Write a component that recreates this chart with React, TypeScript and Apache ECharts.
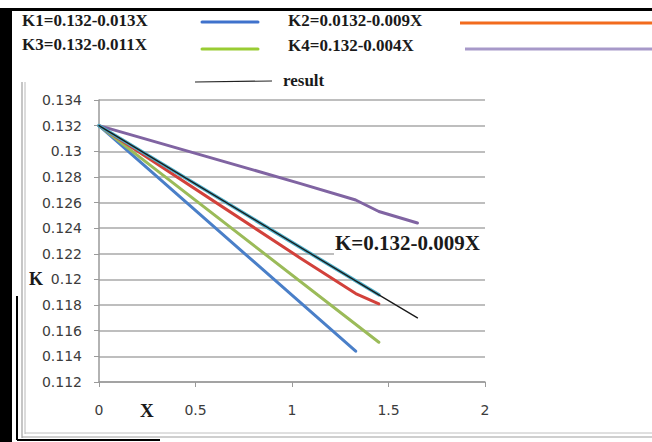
import React, { useEffect, useRef } from "react";
import * as echarts from "echarts";

const xTicks = [0, 0.5, 1, 1.5, 2];
const yMin = 0.112;
const yMax = 0.134;

const k1Points: [number, number][] = [[0, 0.132], [1.33, 0.1144]];
const k3Points: [number, number][] = [[0, 0.132], [1.45, 0.1151]];
const k2Points: [number, number][] = [[0, 0.132], [1.04, 0.1217], [1.33, 0.1189], [1.45, 0.1181]];
const k4Points: [number, number][] = [[0, 0.132], [1.04, 0.1275], [1.33, 0.1262], [1.45, 0.1253], [1.65, 0.1244]];
const kfitPoints: [number, number][] = [[0, 0.132], [1.45, 0.1188]];
const resultPoints: [number, number][] = [[0, 0.132], [1.45, 0.1188], [1.65, 0.1170]];

const legendLabels = ["K1=0.132-0.013X", "K2=0.0132-0.009X", "K3=0.132-0.011X", "K4=0.132-0.004X", "result"];
const annotation = "K=0.132-0.009X";

export default function App() {
  const ref = useRef<HTMLDivElement>(null);
  useEffect(() => {
    if (!ref.current) return;
    const chart = echarts.init(ref.current, null, { renderer: "svg" });
    const serif = "'Liberation Serif', 'Times New Roman', serif";
    const line = (color: string, width: number, data: [number, number][], z = 2) => ({
      type: "line",
      data,
      symbol: "none",
      smooth: false,
      z,
      lineStyle: { color, width, cap: "round", join: "round" },
    });
    chart.setOption({
      animation: false,
      backgroundColor: "#ffffff",
      grid: { left: 99, right: 167, top: 100, bottom: 60 },
      xAxis: {
        type: "value",
        min: xTicks[0],
        max: xTicks[xTicks.length - 1],
        interval: 0.5,
        axisLine: { show: true, lineStyle: { color: "#9a9a9a", width: 1.5 } },
        axisTick: { show: true, inside: false, length: 5, lineStyle: { color: "#9a9a9a" } },
        splitLine: { show: false },
        axisLabel: {
          margin: 21,
          color: "#3c3c3c",
          fontSize: 14,
          fontFamily: "'DejaVu Sans', Verdana, sans-serif",
        },
      },
      yAxis: {
        type: "value",
        min: yMin,
        max: yMax,
        interval: 0.002,
        axisLine: { show: true, lineStyle: { color: "#9a9a9a", width: 1.5 } },
        axisTick: { show: true, length: 5, lineStyle: { color: "#9a9a9a" } },
        splitLine: { show: true, lineStyle: { color: "#a8a8a8", width: 1.5 } },
        axisLabel: {
          margin: 17,
          color: "#3c3c3c",
          fontSize: 14,
          fontFamily: "'DejaVu Sans', Verdana, sans-serif",
          formatter: (v: number) => String(parseFloat(v.toFixed(3))),
        },
      },
      series: [
        line("#4a7fc8", 3, k1Points),
        line("#9bbb59", 3, k3Points),
        line("#d2413b", 3, k2Points),
        line("#8064a2", 3, k4Points),
        line("#4bacc6", 3.5, kfitPoints, 3),
        line("#1a1a1a", 1.3, resultPoints, 4),
      ],
      graphic: [
        // frame
        { type: "rect", shape: { x: 0, y: 8, width: 12, height: 434 }, style: { fill: "#000" }, z: 10 },
        { type: "rect", shape: { x: 8, y: 8, width: 644, height: 3 }, style: { fill: "#000" }, z: 10 },
        { type: "line", shape: { x1: 22, y1: 82, x2: 22, y2: 438 }, style: { stroke: "#a0a0a0", lineWidth: 1.2 }, z: 10 },
        { type: "line", shape: { x1: 25, y1: 82, x2: 25, y2: 434 }, style: { stroke: "#b8b8b8", lineWidth: 1 }, z: 10 },
        { type: "line", shape: { x1: 22, y1: 437, x2: 652, y2: 437 }, style: { stroke: "#a0a0a0", lineWidth: 1.2 }, z: 10 },
        { type: "line", shape: { x1: 25, y1: 433, x2: 652, y2: 433 }, style: { stroke: "#c0c0c0", lineWidth: 1 }, z: 10 },
        { type: "line", shape: { x1: 17, y1: 296, x2: 17, y2: 440 }, style: { stroke: "#000", lineWidth: 2 }, z: 10 },
        { type: "line", shape: { x1: 17, y1: 440, x2: 160, y2: 440 }, style: { stroke: "#000", lineWidth: 2 }, z: 10 },
        // legend
        { type: "text", x: 22, y: 20, style: { text: legendLabels[0], font: `bold 17px ${serif}`, fill: "#1a1a1a", textVerticalAlign: "middle" }, z: 10 },
        { type: "line", shape: { x1: 202, y1: 22, x2: 258, y2: 22 }, style: { stroke: "#3f72cc", lineWidth: 3, lineCap: "round" }, z: 10 },
        { type: "text", x: 288, y: 20, style: { text: legendLabels[1], font: `bold 17px ${serif}`, fill: "#1a1a1a", textVerticalAlign: "middle" }, z: 10 },
        { type: "line", shape: { x1: 460, y1: 23, x2: 652, y2: 23 }, style: { stroke: "#f26b1d", lineWidth: 3 }, z: 10 },
        { type: "text", x: 22, y: 44, style: { text: legendLabels[2], font: `bold 17px ${serif}`, fill: "#1a1a1a", textVerticalAlign: "middle" }, z: 10 },
        { type: "line", shape: { x1: 202, y1: 49, x2: 258, y2: 49 }, style: { stroke: "#99cc33", lineWidth: 3, lineCap: "round" }, z: 10 },
        { type: "text", x: 288, y: 45, style: { text: legendLabels[3], font: `bold 17px ${serif}`, fill: "#1a1a1a", textVerticalAlign: "middle" }, z: 10 },
        { type: "line", shape: { x1: 465, y1: 49, x2: 652, y2: 49 }, style: { stroke: "#a799c9", lineWidth: 3 }, z: 10 },
        { type: "line", shape: { x1: 195, y1: 82, x2: 272, y2: 81 }, style: { stroke: "#222", lineWidth: 1.2 }, z: 10 },
        { type: "text", x: 283, y: 80, style: { text: legendLabels[4], font: `bold 17px ${serif}`, fill: "#1a1a1a", textVerticalAlign: "middle" }, z: 10 },
        // axis titles
        { type: "text", x: 29, y: 279, style: { text: "K", font: `bold 18px ${serif}`, fill: "#1a1a1a", textVerticalAlign: "middle" }, z: 10 },
        { type: "text", x: 140, y: 410, style: { text: "X", font: `bold 19px ${serif}`, fill: "#1a1a1a", textVerticalAlign: "middle" }, z: 10 },
        // annotation
        { type: "rect", shape: { x: 334, y: 233, width: 152, height: 24 }, style: { fill: "#ffffff" }, z: 9 },
        { type: "text", x: 335, y: 243, style: { text: annotation, font: `bold 21px ${serif}`, fill: "#1a1a1a", textVerticalAlign: "middle" }, z: 10 },
      ],
    });
    return () => chart.dispose();
  }, []);
  return <div ref={ref} style={{ width: 652, height: 442, position: "fixed", left: 0, top: 0 }} />;
}
